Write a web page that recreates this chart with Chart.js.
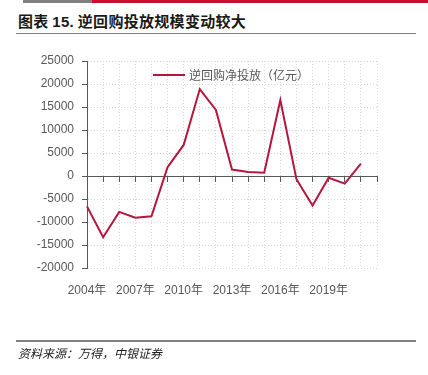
<!DOCTYPE html>
<html>
<head>
<meta charset="utf-8">
<script src="https://cdn.jsdelivr.net/npm/chart.js@4/dist/chart.umd.min.js"></script>
<style>
  html, body { margin: 0; padding: 0; background: #fff; }
  body { width: 428px; height: 375px; position: relative; overflow: hidden; font-family: "Liberation Sans", "Noto Sans CJK SC", sans-serif; }
  #barGrey { position: absolute; left: 23px; top: 0; width: 69px; height: 3px; background: #808080; }
  #barRed { position: absolute; left: 92px; top: 0; width: 336px; height: 3px; background: #c8102e; }
  #title { position: absolute; left: 18px; top: 11px; font-family: "Noto Sans CJK SC", sans-serif; font-weight: bold; font-size: 15px; letter-spacing: 0.3px; line-height: 20px; color: #1a1a1a; white-space: nowrap; }
  #title .num { font-family: "Liberation Sans", sans-serif; }
  #rule1 { position: absolute; left: 16px; top: 33px; width: 400px; height: 1px; background: #808080; }
  #rule2 { position: absolute; left: 16px; top: 340px; width: 400px; height: 2px; background: #808080; }
  #source { position: absolute; left: 18px; top: 345px; font-family: "Noto Sans CJK SC", sans-serif; font-style: italic; font-size: 12px; line-height: 16px; color: #222; white-space: nowrap; }
  #wrap { position: absolute; left: 0; top: 0; width: 428px; height: 375px; }
  #legend { position: absolute; left: 153px; top: 66px; height: 18px; white-space: nowrap; }
  #legend .sw { position: absolute; left: 0; top: 8px; width: 32px; height: 2px; background: #b5163c; }
  #legend .tx { position: absolute; left: 36px; top: 0; font-size: 12px; line-height: 18px; color: #595959; font-family: "Noto Sans CJK SC", sans-serif; }
</style>
</head>
<body>
<div id="barGrey"></div><div id="barRed"></div>
<div id="title">图表 <span class="num">15.</span> 逆回购投放规模变动较大</div>
<div id="rule1"></div>
<div id="wrap"><canvas id="c" width="428" height="375"></canvas></div>
<div id="legend"><div class="sw"></div><div class="tx">逆回购净投放（亿元）</div></div>
<div id="rule2"></div>
<div id="source">资料来源：万得，中银证券</div>
<script>
const categories = ["2004年","2005年","2006年","2007年","2008年","2009年","2010年","2011年","2012年","2013年","2014年","2015年","2016年","2017年","2018年","2019年","2020年","2021年","2022年"];
const reverseRepoNet = [-6600,-13300,-7800,-9050,-8750,1900,6750,18900,14350,1400,870,720,16500,-700,-6400,-400,-1650,2700,null];
const yTicks = [-20000,-15000,-10000,-5000,0,5000,10000,15000,20000,25000];
const seriesName = "逆回购净投放（亿元）";

const tickFont = { family: "'Liberation Sans', 'Noto Sans CJK SC', sans-serif", size: 12 };

new Chart(document.getElementById('c'), {
  type: 'line',
  data: {
    labels: categories,
    datasets: [{
      label: seriesName,
      data: reverseRepoNet,
      xAxisID: 'x',
      yAxisID: 'y',
      borderColor: '#b5163c',
      backgroundColor: '#b5163c',
      borderWidth: 2,
      pointRadius: 0,
      tension: 0,
      fill: false
    }]
  },
  options: {
    responsive: false,
    animation: false,
    events: [],
    layout: { padding: { left: 0, top: 61, right: 51, bottom: 0 } },
    plugins: { legend: { display: false }, tooltip: { enabled: false } },
    scales: {
      x: {
        type: 'category',
        position: { y: 0 },
        offset: false,
        ticks: { display: false },
        grid: { color: '#d9d9d9', lineWidth: 1, tickLength: 5, tickColor: '#595959', tickBorderDash: [], drawTicks: true },
        border: { display: true, color: '#595959', width: 1, dash: [1, 2] }
      },
      x2: {
        type: 'category',
        position: 'bottom',
        offset: false,
        grid: { display: false, drawTicks: false },
        border: { display: false },
        ticks: {
          color: '#595959', font: tickFont, padding: 15, autoSkip: false, maxRotation: 0,
          callback: function(v, i) { return (i % 3 === 0 && i < categories.length - 1) ? categories[i] : ''; }
        },
        afterFit: function(s) { s.height = 375 - 268; }
      },
      y: {
        type: 'linear',
        min: yTicks[0],
        max: yTicks[yTicks.length - 1],
        afterBuildTicks: function(s) { s.ticks = yTicks.map(v => ({ value: v })); },
        ticks: { color: '#595959', font: tickFont, padding: 8, callback: function(v) { return String(v); } },
        grid: { color: '#d9d9d9', lineWidth: 1, tickLength: 5, tickColor: '#595959', tickBorderDash: [] },
        border: { display: true, color: '#595959', width: 1, dash: [1, 2] },
        afterFit: function(s) { s.width = 87; }
      }
    }
  }
});
</script>
</body>
</html>
